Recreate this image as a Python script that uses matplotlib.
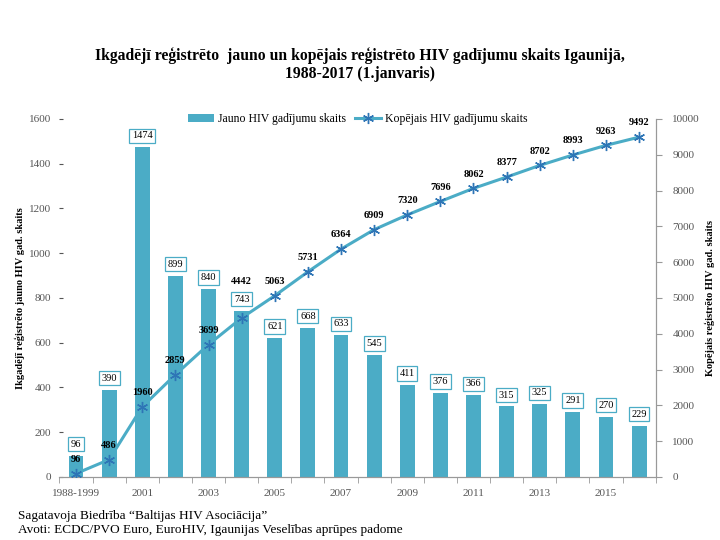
#!/usr/bin/env python3

import numpy as np
import matplotlib
matplotlib.use("Agg")
import matplotlib.pyplot as plt

# data
years = ["1988-1999", "2000", "2001", "2002", "2003", "2004", "2005", "2006", "2007",
         "2008", "2009", "2010", "2011", "2012", "2013", "2014", "2015", "2016"]
new_cases = [96, 390, 1474, 899, 840, 743, 621, 668, 633,
             545, 411, 376, 366, 315, 325, 291, 270, 229]
total_cases = [96, 486, 1960, 2859, 3699, 4442, 5063, 5731, 6364,
               6909, 7320, 7696, 8062, 8377, 8702, 8993, 9263, 9492]

title = ("Ikgadējī reģistrēto  jauno un kopējais reģistrēto HIV gadījumu skaits Igaunijā,\n"
         "1988-2017 (1.janvaris)")
left_label = "Ikgadējī reģistrēto jauno HIV gad. skaits"
right_label = "Kopējais reģistrēto HIV gad. skaits"
footer = ("Sagatavoja Biedrība \u201cBaltijas HIV Asociācija\u201d\n"
          "Avoti: ECDC/PVO Euro, EuroHIV, Igaunijas Veselības aprūpes padome")

BAR = "#4BACC6"
MARK = "#2E75B6"
TICK = "#555555"

plt.rcParams["font.family"] = ["Liberation Serif", "DejaVu Serif"]

def _main():
    fig = plt.figure(figsize=(7.2, 5.4), dpi=100)
    ax = fig.add_axes([0.0826, 0.1167, 0.828, 0.663])
    ax2 = ax.twinx()

    x = np.arange(len(years))
    bars = ax.bar(x, new_cases, width=0.45, color=BAR, label="Jauno HIV gadījumu skaits", zorder=2)
    line, = ax2.plot(x, total_cases, color=BAR, linewidth=2.2, marker=(6, 2, 0),
                     markersize=8, markeredgecolor=MARK, markeredgewidth=1.0,
                     label="Kopējais HIV gadījumu skaits", zorder=3)

    ax.set_xlim(-0.5, len(years) - 0.5)
    ax.set_ylim(0, 1600)
    ax2.set_ylim(0, 10000)
    ax.set_yticks(np.arange(0, 1601, 200))
    ax2.set_yticks(np.arange(0, 10001, 1000))

    ax.set_xticks(x[::2])
    ax.set_xticklabels(years[::2])
    ax.set_xticks(np.arange(-0.5, len(years), 1.0), minor=True)
    ax.tick_params(axis="x", which="major", length=0, pad=9, labelsize=8, labelcolor=TICK)
    ax.tick_params(axis="x", which="minor", length=4, color="#999999")
    ax.tick_params(axis="y", length=3, color=TICK, labelsize=8, labelcolor=TICK, pad=6,
                   direction="in")
    ax2.tick_params(axis="y", length=4, color="#999999", labelsize=8, labelcolor=TICK, pad=8)

    for a in (ax, ax2):
        a.spines["top"].set_visible(False)
        a.spines["left"].set_visible(False)
        a.spines["bottom"].set_color("#999999")
        a.spines["right"].set_color("#999999")

    # value labels on bars, boxed
    for xi, v in zip(x, new_cases):
        ax.annotate(str(v), (xi, v), xytext=(0, 5), textcoords="offset points",
                    ha="center", va="bottom", fontsize=7.5, zorder=4,
                    bbox=dict(boxstyle="square,pad=0.25", fc="white", ec=BAR, lw=0.9))

    # value labels on the cumulative line (2004 label sits above the bar box)
    for xi, v in zip(x, total_cases):
        dy = 23 if years[xi] == "2004" else 7
        ax2.annotate(str(v), (xi, v), xytext=(0, dy), textcoords="offset points",
                     ha="center", va="bottom", fontsize=7.5, fontweight="bold", zorder=5)

    ax.set_ylabel(left_label, fontsize=7.5, fontweight="bold")
    ax.yaxis.set_label_coords(-0.058, 0.5)
    ax2.set_ylabel(right_label, fontsize=7.5, fontweight="bold")
    ax2.yaxis.set_label_coords(1.082, 0.5)

    ax.legend([bars, line], [bars.get_label(), line.get_label()], loc="center",
              bbox_to_anchor=(0.5, 1.0), ncol=2, frameon=False, fontsize=8.5,
              handlelength=2.2, columnspacing=0.8, handletextpad=0.3)

    fig.text(0.5, 0.88, title, ha="center", va="center", fontsize=11.3,
             fontweight="bold", linespacing=1.15)
    fig.text(0.025, 0.008, footer, ha="left", va="bottom", fontsize=9.5, linespacing=1.15)

    fig.savefig("out.png", dpi=100)

if __name__ == "__main__":
    _main()
